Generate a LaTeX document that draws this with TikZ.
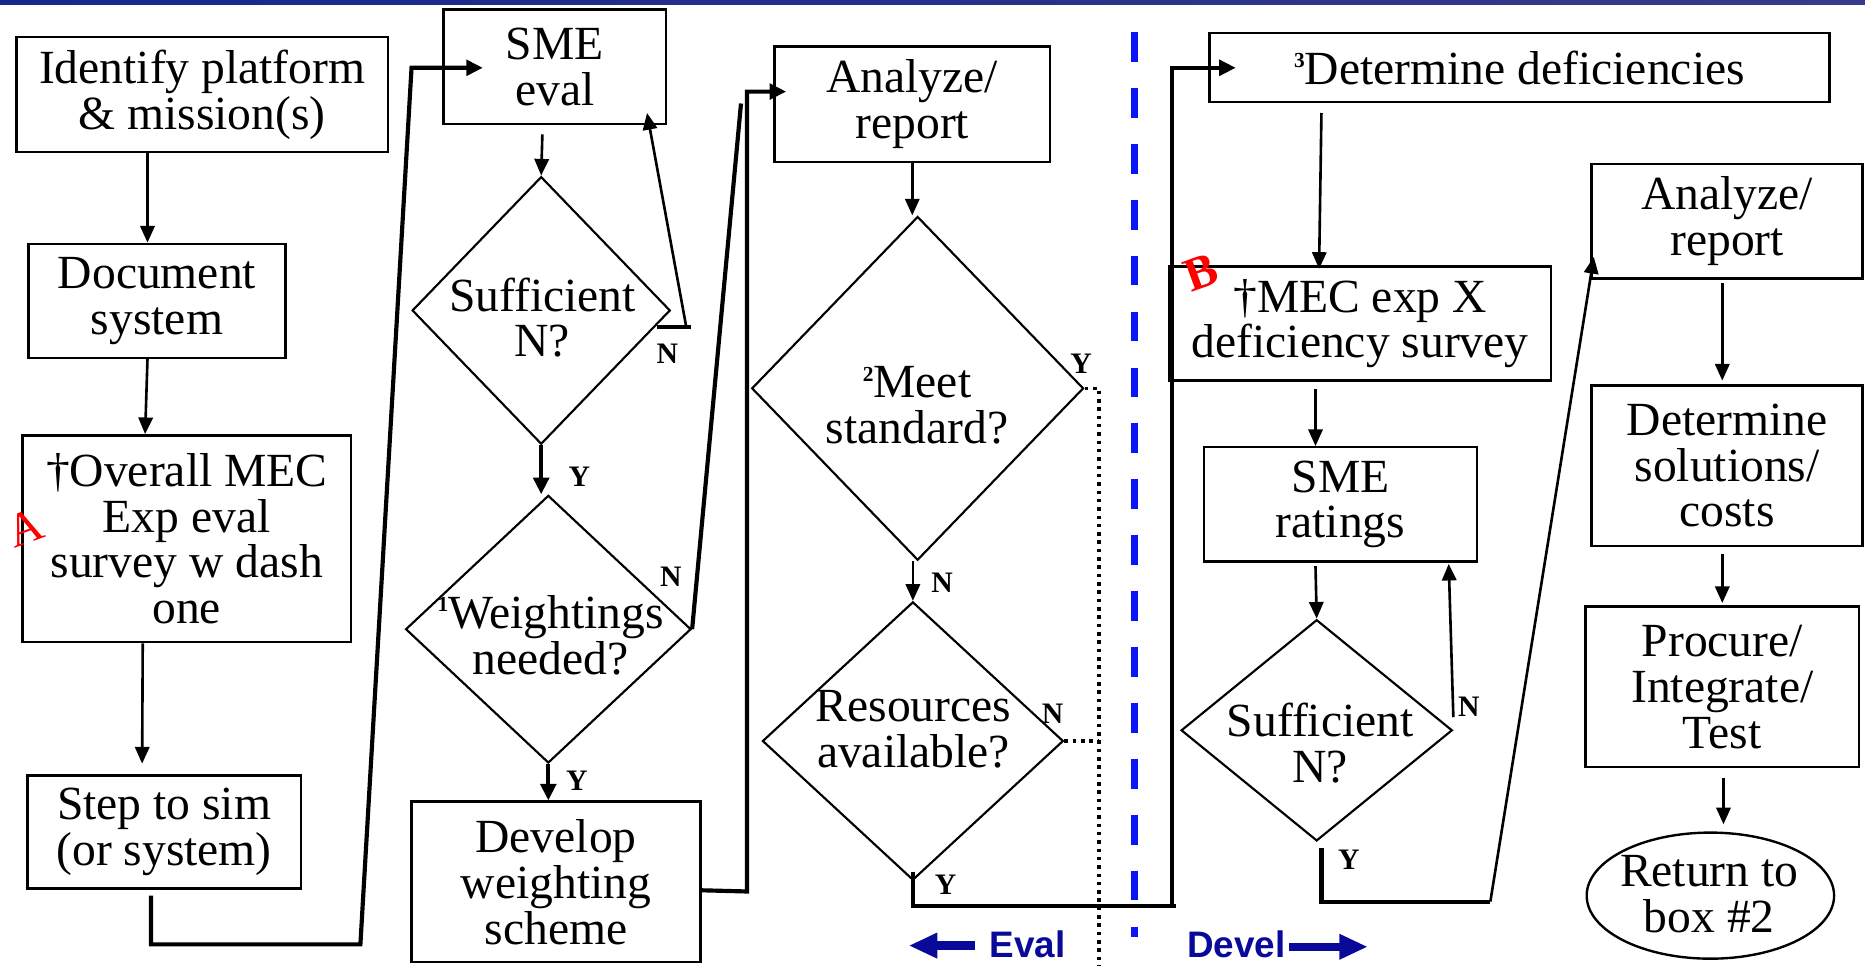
\documentclass[tikz,border=0pt]{standalone}
\usepackage{fontspec}
\setmainfont{Liberation Serif}
\setsansfont{Liberation Sans}
\usetikzlibrary{arrows.meta,shapes.geometric,calc}
\newcommand{\mainfs}{\fontsize{40}{38.5}\selectfont}
\newcommand{\ynfs}{\fontsize{25}{25}\selectfont\bfseries}
\newcommand{\supnum}[1]{\raisebox{14pt}{\fontsize{18}{18}\selectfont\bfseries #1}}
\definecolor{navyc}{HTML}{0A0A9A}
\definecolor{dashblue}{HTML}{0A14F5}
\definecolor{barl}{HTML}{14288C}
\definecolor{barr}{HTML}{3A3A8A}
\begin{document}
\begin{tikzpicture}[x=1pt,y=-1pt,
  box/.style={draw, line width=2pt, rectangle, inner sep=0pt, align=center, font=\mainfs},
  dia/.style={draw, line width=1.8pt, diamond, inner sep=0pt},
  dtext/.style={align=center, font=\mainfs, inner sep=0pt},
  arr/.style={line width=2.2pt, -{Triangle[length=14pt,width=12pt]}},
  tharr/.style={line width=3.5pt, -{Triangle[length=14pt,width=13pt]}},
  thline/.style={line width=3.5pt},
  dotline/.style={line width=3pt, dash pattern=on 3pt off 4pt},
  yn/.style={font=\ynfs, inner sep=0pt},
  navarr/.style={navyc, line width=7pt, -{Triangle[length=24pt,width=20pt]}},
  navtext/.style={navyc, font=\sffamily\bfseries\fontsize{31}{31}\selectfont, inner sep=0pt, anchor=base west},
  redlab/.style={red, inner sep=0pt, rotate=20}
]
\clip (0,0) rectangle (1568,812);
\useasboundingbox (0,0) rectangle (1568,812);
\fill[white] (0,0) rectangle (1568,812);
\shade[left color=barl, right color=barr] (0,0) rectangle (1568,4);

% ---------- boxes ----------
\node[box, minimum width=312pt, minimum height=97pt] (ident) at (170,79.5) {Identify platform\\\& mission(s)};
\node[box, minimum width=216pt, minimum height=96pt] (doc) at (132,253) {Document\\system};
\node[box, minimum width=276pt, minimum height=174pt] (overall) at (157,453) {†Overall MEC\\Exp eval\\survey w dash\\one};
\node[box, minimum width=230pt, minimum height=95pt] (step) at (138,699.5) {Step to sim\\(or system)};
\node[box, minimum width=187pt, minimum height=96pt] (smeeval) at (466.5,56) {SME\\eval};
\node[box, minimum width=243pt, minimum height=135pt] (develop) at (467.5,741.5) {Develop\\weighting\\scheme};
\node[box, minimum width=232pt, minimum height=97pt] (analyzeA) at (767,87.5) {Analyze/\\report};
\node[box, minimum width=521pt, minimum height=58pt] (detdef) at (1277.5,57) {\supnum{3}Determine deficiencies};
\node[box, minimum width=321pt, minimum height=96pt] (mec) at (1143.5,272) {†MEC exp X\\deficiency survey};
\node[box, minimum width=230pt, minimum height=96pt] (smer) at (1127,424) {SME\\ratings};
\node[box, minimum width=228pt, minimum height=96pt] (analyzeB) at (1452,186) {Analyze/\\report};
\node[box, minimum width=228pt, minimum height=135pt] (detsol) at (1452,391.5) {Determine\\solutions/\\costs};
\node[box, minimum width=230pt, minimum height=135pt] (procure) at (1448,577.5) {Procure/\\Integrate/\\Test};
\node[draw, line width=2pt, ellipse, inner sep=0pt, minimum width=208pt, minimum height=106pt] (ret) at (1438,753) {};
\node[dtext] (rett) at (1437,752) {Return to\\box \#2};

% ---------- diamonds ----------
\node[dia, minimum width=217pt, minimum height=225pt] (sA) at (455,261) {};
\node[dtext] (sAt) at (456,267) {Sufficient\\N?};
\node[dia, minimum width=240pt, minimum height=225pt] (w) at (461,529) {};
\node[dtext] (wt) at (463,534) {\supnum{1}Weightings\\needed?};
\node[dia, minimum width=279pt, minimum height=289pt] (meet) at (771.5,326.5) {};
\node[dtext] (meett) at (771,341) {\supnum{2}Meet\\standard?};
\node[dia, minimum width=253pt, minimum height=234pt] (res) at (767.5,623) {};
\node[dtext] (rest) at (768,613) {Resources\\available?};
\node[dia, minimum width=228pt, minimum height=186pt] (sB) at (1107,614) {};
\node[dtext] (sBt) at (1110,625) {Sufficient\\N?};

% ---------- waypoints ----------
\coordinate (k1) at (303,794);
\coordinate (k2) at (346,57);
\coordinate (sAn) at (581,275);
\coordinate (v1) at (628,749.5);
\coordinate (v2) at (628,77);
\coordinate (wn) at (623,87);
\coordinate (dt) at (924,326.5);
\coordinate (db) at (924,812);
\coordinate (r1) at (989,762);
\coordinate (r2) at (985,762);
\coordinate (r3) at (985,57);
\coordinate (y1) at (1253,758);

% ---------- connectors ----------
\draw[arr] ([xshift=-46pt]ident.south) -- ([xshift=-8pt]doc.north);
\draw[arr] ([xshift=-8pt]doc.south) -- ([xshift=-35pt]overall.north);
\draw[arr] ([xshift=-37pt]overall.south) -- ([xshift=-18.5pt,yshift=9pt]step.north);
\draw[tharr] ([xshift=-11pt,yshift=-5pt]step.south) |- (k1) -- (k2) -- ([xshift=34pt,yshift=-1pt]smeeval.west);
\draw[arr] ([xshift=-10.5pt,yshift=-8pt]smeeval.south) -- (sA.north);
\draw[thline] ([xshift=-12pt,yshift=-14pt]sA.east) -- (sAn);
\draw[arr] ([xshift=-4pt]sAn) -- ([xshift=77.5pt,yshift=10pt]smeeval.south);
\draw[tharr] (sA.south) -- (sA.south |- w.north);
\draw[tharr] (w.south) -- (w.south |- develop.north);
\draw[tharr] ([yshift=-7pt]develop.east) -- (v1) -- (v2) -- ([xshift=11pt,yshift=10.5pt]analyzeA.west);
\draw[thline] (w.east) -- (wn);
\draw[arr] (analyzeA.south) -- (analyzeA.south |- meet.north);
\draw[arr] (meet.south -| res.north) -- (res.north);
\draw[dotline] (meet.east) -- (dt) -- (db);
\draw[dotline] (res.east) -- (res.east -| dt);
\draw[thline] ([yshift=8pt]res.south) |- (r1);
\draw[tharr] (r2) -- (r3) -- ([xshift=23pt]detdef.west);
\draw[arr] ([xshift=-166.5pt,yshift=-8pt]detdef.south) -- ([xshift=-34.5pt,yshift=-3pt]mec.north);
\draw[arr] ([xshift=-37.5pt,yshift=-6pt]mec.south) -- ([xshift=-21pt]smer.north);
\draw[arr] ([xshift=-21pt,yshift=-3pt]smer.south) -- (sB.north);
\draw[arr] ([yshift=11pt]sB.east) -- ([xshift=91pt,yshift=-1pt]smer.south);
\draw[thline] ([xshift=4pt,yshift=-5pt]sB.south) |- (y1);
\draw[arr] (y1) -- ([xshift=3pt,yshift=-30pt]analyzeB.west);
\draw[arr] ([xshift=-4pt,yshift=-3pt]analyzeB.south) -- ([xshift=-4pt,yshift=3pt]detsol.north);
\draw[arr] ([xshift=-4pt,yshift=-6pt]detsol.south) -- ([yshift=2pt]procure.north);
\draw[arr] ([xshift=1pt,yshift=-8pt]procure.south) -- ([xshift=11pt,yshift=6pt]ret.north);

% ---------- Y / N labels ----------
\node[yn] (lnA) at (561,297) {N};
\node[yn] (lyA) at (487,401) {Y};
\node[yn] (lnW) at (564,485) {N};
\node[yn] (lyW) at (485,656) {Y};
\node[yn] (lyM) at (909,306) {Y};
\node[yn] (lnM) at (792,490) {N};
\node[yn] (lnR) at (885,600) {N};
\node[yn] (lyR) at (795,744) {Y};
\node[yn] (lnS) at (1235,594) {N};
\node[yn] (lyS) at (1134,723) {Y};

% ---------- divider ----------
\coordinate (bl1) at (954,27);
\coordinate (bl2) at (954,788);
\draw[dashblue, line width=6pt, dash pattern=on 25pt off 22pt] (bl1) -- (bl2);

% ---------- Eval / Devel ----------
\coordinate (e1) at (820,795);
\coordinate (e2) at (764,795);
\draw[navarr] (e1) -- (e2);
\node[navtext] (evalt) at (832,805) {Eval};
\coordinate (d1) at (1084,796);
\coordinate (d2) at (1150,796);
\draw[navarr] (d1) -- (d2);
\node[navtext] (develt) at (998,805) {Devel};

% ---------- red markers ----------
\node[redlab, font=\fontsize{40}{40}\selectfont] (la) at (21,444) {A};
\node[redlab, font=\fontsize{40}{40}\selectfont\bfseries] (lb) at (1010,229) {B};
\end{tikzpicture}
\end{document}
